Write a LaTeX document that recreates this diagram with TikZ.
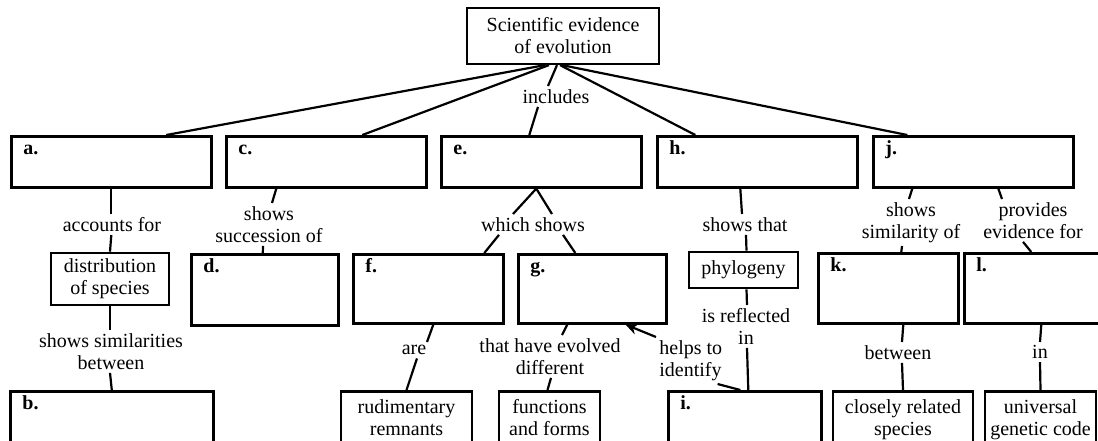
\documentclass[tikz,border=0pt]{standalone}
\usepackage{fontspec}
\setmainfont{Liberation Serif}
\usepackage{tikz}
\usetikzlibrary{shapes,arrows,arrows.meta,positioning,calc}

\tikzset{
	box/.style={draw, line width=1.3pt, inner sep=2pt, align=center},
	blank/.style={draw, line width=1.3pt, anchor=north west, inner sep=0pt},
	wide/.style={minimum width=100pt, minimum height=25.5pt},
	endbox/.style={box, anchor=north, inner ysep=4pt, text depth=17pt},
	tagged/.style={label={[anchor=base west, inner sep=0pt, xshift=6.5pt, yshift=-9.5pt]north west:\textbf{#1}}},
	lbl/.style={inner sep=1.5pt, align=center, anchor=north},
	conn/.style={line width=1.1pt}
}

\begin{document}
\begin{tikzpicture}[x=0.5pt, y=-0.5pt, font=\fontsize{10}{11}\selectfont]
				\useasboundingbox (0,0) rectangle (1098,440);
				\clip (0,0) rectangle (1098,440);

				\node [box, minimum width=96pt, minimum height=28pt, line width=1.1pt] (top) at (563,36) {Scientific evidence\\of evolution};

				\node [blank, wide, tagged=a.] (a) at (10,135) {};
				\node [blank, wide, tagged=c.] (c) at (225,135) {};
				\node [blank, wide, tagged=e.] (e) at (440,135) {};
				\node [blank, wide, tagged=h.] (h) at (656,135) {};
				\node [blank, wide, tagged=j.] (j) at (872,135) {};

				\node [box, minimum width=59pt, minimum height=26pt] (dist) at (110,279) {distribution\\of species};
				\node [blank, minimum width=73.5pt, minimum height=35.5pt, tagged=d.] (d) at (190,253) {};
				\node [blank, minimum width=75pt, minimum height=34.5pt, tagged=f.] (f) at (352,253) {};
				\node [blank, minimum width=74pt, minimum height=34.5pt, tagged=g.] (g) at (517,253) {};
				\node [box, minimum width=54.5pt, minimum height=18pt] (phyl) at (743.5,270) {phylogeny};
				\node [blank, minimum width=70pt, minimum height=35pt, tagged=k.] (k) at (817,252) {};
				\node [blank, minimum width=75pt, minimum height=35pt, tagged=l.] (l) at (963,252) {};

				\node [blank, minimum width=101.5pt, minimum height=40pt, tagged=b.] (b) at (9,390) {};
				\node [endbox, minimum width=65.5pt] (rud) at (406.5,390) {rudimentary\\remnants};
				\node [endbox, minimum width=50.5pt] (func) at (549.5,390) {functions\\and forms};
				\node [blank, minimum width=76.5pt, minimum height=40pt, tagged=i.] (i) at (667,390) {};
				\node [endbox, minimum width=70pt] (close) at (903,390) {closely related\\species};
				\node [endbox, minimum width=55.5pt] (univ) at (1040.5,390) {universal\\genetic code};

				\node [lbl] (incl) at (556,86) {includes};
				\node [lbl] (accfor) at (112,214) {accounts for};
				\node [lbl] (simil) at (111,330) {shows similarities\\between};
				\node [lbl] (succ) at (269,203) {shows\\succession of};
				\node [lbl] (which) at (533,214) {which shows};
				\node [lbl] (shthat) at (745,214) {shows that};
				\node [lbl] (refl) at (746,305) {is reflected\\in};
				\node [lbl, anchor=north west, align=left] (helps) at (656,337) {helps to\\identify};
				\node [lbl] (simof) at (911,199) {shows\\similarity of};
				\node [lbl] (provid) at (1033,199) {provides\\evidence for};
				\node [lbl] (are) at (414,342) {are};
				\node [lbl] (evolv) at (550,335) {that have evolved\\different};
				\node [lbl] (betw) at (898,342) {between};
				\node [lbl] (inl) at (1040,342) {in};

				\draw [conn] ($(top.south)+(-18,0)$) -- ($(a.north)+(55,0)$);
				\draw [conn] ($(top.south)+(-14,0)$) -- ($(c.north)+(36,0)$);
				\draw [conn] ($(top.south)+(-6,0)$) -- ($(incl.north)+(-8,0)$);
				\draw [conn] ($(incl.south)+(-18,0)$) -- ($(e.north)+(-12,0)$);
				\draw [conn] ($(top.south)+(-3,0)$) -- ($(h.north)+(-62,0)$);
				\draw [conn] ($(top.south)+(-1,0)$) -- ($(j.north)+(-66,0)$);

				\draw [conn] (a.south) -- (a.south |- accfor.north);
				\draw [conn] (a.south |- accfor.south) -- (dist.north);
				\draw [conn] (dist.south) -- (dist.south |- simil.north);
				\draw [conn] (dist.south |- simil.south) -- (b.north);

				\draw [conn] ($(c.south)+(-50,0)$) -- ($(succ.north)+(3,0)$);
				\draw [conn] ($(succ.south)+(-6,0)$) -- ($(d.north)+(-2,0)$);

				\draw [conn] ($(which.north)+(-20,0)$) -- ($(e.south)+(-5,0)$) -- ($(which.north)+(19,0)$);
				\draw [conn] ($(which.south)+(-34,0)$) -- ($(f.north)+(56,0)$);
				\draw [conn] ($(which.south)+(30,0)$) -- ($(g.north)+(-17,0)$);
				\draw [conn] ($(f.south)+(5,0)$) -- ($(are.north)+(13,0)$);
				\draw [conn] ($(are.south)+(3,0)$) -- (rud.north);
				\draw [conn] ($(g.south)+(-25,0)$) -- ($(evolv.north)+(12,0)$);
				\draw [conn] ($(evolv.south)+(1,0)$) -- ($(func.north)+(-2,0)$);

				\draw [conn] ($(h.south)+(-17,0)$) -- ($(shthat.north)+(-3,0)$);
				\draw [conn] ($(shthat.south)+(1,0)$) -- ($(phyl.north)+(3,0)$);
				\draw [conn] ($(phyl.south)+(3,0)$) -- ($(refl.north)+(1,0)$);
				\draw [conn] ($(refl.south)+(1,0)$) -- ($(i.north)+(3.5,0)$);
				\draw [conn, -{Stealth[length=6pt, width=5.5pt]}] (helps.north west) -- ($(g.south east)+(-42,0)$);
				\draw [conn] ($(helps.south east)+(-8,0)$) -- ($(i.north)+(-4.5,0)$);

				\draw [conn] ($(j.south)+(-61,0)$) -- ($(simof.north)+(-2,0)$);
				\draw [conn] ($(simof.south)+(-9,0)$) -- ($(k.north)+(13,0)$);
				\draw [conn] ($(j.south)+(25,0)$) -- ($(provid.north)+(-31,0)$);
				\draw [conn] ($(provid.south)+(-10,0)$) -- ($(l.north)+(-8,0)$);
				\draw [conn] ($(k.south)+(15,0)$) -- ($(betw.north)+(4,0)$);
				\draw [conn] ($(betw.south)+(4,0)$) -- (close.north);
				\draw [conn] ($(l.south)+(2,0)$) -- (inl.north);
				\draw [conn] (inl.south) -- (univ.north);
				\end{tikzpicture}
\end{document}
